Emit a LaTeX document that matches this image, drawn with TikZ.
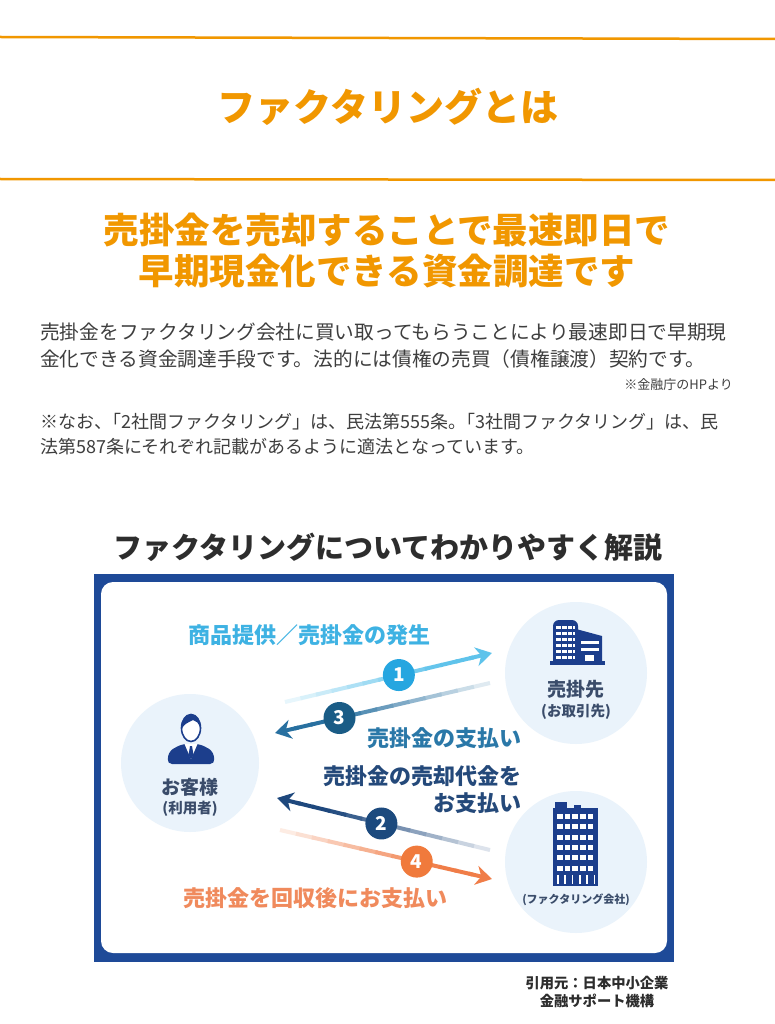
\documentclass[tikz,border=0pt]{standalone}
\usepackage{fontspec}
\setmainfont{Noto Sans CJK JP}
\usepackage{xcolor}
\usepackage{tikz}
\usetikzlibrary{arrows.meta, calc}

\definecolor{orng}{RGB}{241,151,0}
\definecolor{txtgray}{RGB}{62,62,62}
\definecolor{darkhd}{RGB}{45,45,45}
\definecolor{framebl}{RGB}{30,74,152}
\definecolor{circbg}{RGB}{234,243,251}
\definecolor{icon}{RGB}{28,62,140}
\definecolor{lblgray}{RGB}{58,76,106}
\definecolor{cyanl}{RGB}{62,178,227}
\definecolor{steel}{RGB}{42,120,168}
\definecolor{navyt}{RGB}{36,73,122}
\definecolor{orngl}{RGB}{240,138,92}
\definecolor{aone}{RGB}{95,195,235}
\definecolor{athree}{RGB}{40,112,160}
\definecolor{atwo}{RGB}{30,72,125}
\definecolor{afour}{RGB}{240,125,72}
\definecolor{bone}{RGB}{38,166,224}
\definecolor{bthree}{RGB}{26,92,134}
\definecolor{btwo}{RGB}{28,74,126}
\definecolor{bfour}{RGB}{240,122,60}

\tikzset{
  bigtitle/.style={text=orng, inner sep=0pt, font=\bfseries\fontsize{38}{40}\selectfont},
  headline/.style={text=orng, inner sep=0pt, font=\bfseries\fontsize{35.5}{38}\selectfont},
  bodytext/.style={text=txtgray, anchor=west, inner sep=0pt, font=\fontsize{19.7}{22}\selectfont},
  notetext/.style={text=txtgray, anchor=west, inner sep=0pt, font=\fontsize{18}{20}\selectfont},
  difftitle/.style={text=darkhd, inner sep=0pt, font=\bfseries\fontsize{29}{31}\selectfont},
  circbox/.style={circle, fill=circbg, inner sep=0pt},
  who/.style={text=lblgray, inner sep=0pt, font=\bfseries\fontsize{19}{21}\selectfont},
  whosub/.style={text=lblgray, inner sep=0pt, font=\bfseries\fontsize{14.5}{16}\selectfont},
  flowlbl/.style={inner sep=0pt, font=\bfseries\fontsize{22}{24}\selectfont},
  badge/.style={circle, minimum size=32pt, inner sep=0pt, text=white, font=\bfseries\fontsize{19}{20}\selectfont},
  headtip/.style={line width=4pt, -{Stealth[length=16pt, width=19pt, inset=5pt]}},
  credit/.style={text=darkhd, inner sep=0pt, font=\bfseries\fontsize{14.3}{16}\selectfont}
}

\newcommand\fadearrow[3]{%
  \foreach \i in {1,...,12}{%
    \pgfmathsetmacro\ta{(\i-1)/12*0.9}%
    \pgfmathsetmacro\tb{\i/12*0.9+0.01}%
    \pgfmathtruncatemacro\pc{min(100,6+\i*9)}%
    \draw[line width=4pt, #1!\pc!white] ($(#2)!\ta!(#3)$) -- ($(#2)!\tb!(#3)$);
  }
  \draw[headtip, #1] ($(#2)!0.89!(#3)$) -- (#3);
}

\begin{document}
\begin{tikzpicture}[x=1pt, y=-1pt]
\fill[white] (0,0) rectangle (775,1024);
\useasboundingbox (0,0) rectangle (775,1024);

\draw[orng, line width=2.5pt] (0,37) -- (775,39);
\draw[orng, line width=2.5pt] (0,179) -- (775,180);
\node[bigtitle] (title) at (388,107) {ファクタリングとは};
\node[headline] (headA) at (387,230) {売掛金を売却することで最速即日で};
\node[headline] (headB) at (387,271) {早期現金化できる資金調達です};

\node[bodytext] (bodyA) at (40,332) {売掛金をファクタリング会社に買い取ってもらうことにより最速即日で早期現};
\node[bodytext] (bodyB) at (40,359) {金化できる資金調達手段です。法的には債権の売買（債権譲渡）契約です。};
\node[text=txtgray, anchor=east, inner sep=0pt, font=\fontsize{13}{15}\selectfont] (src) at (733,385) {※金融庁のHPより};
\node[notetext] (noteA) at (40,422) {※なお、\kern-0.5em「2社間ファクタリング」は、民法第555条。\kern-0.5em「3社間ファクタリング」は、民};
\node[notetext] (noteB) at (40,447) {法第587条にそれぞれ記載があるように適法となっています。};

\node[difftitle] (diagtitle) at (388,547) {ファクタリングについてわかりやすく解説};

\fill[framebl] (94,574) rectangle (674,962);
\fill[white, rounded corners=12pt] (101,582) rectangle (667,953);

\node[circbox, minimum size=138pt] (cust) at (190,763) {};
\node[circbox, minimum size=142pt] (buyer) at (576,673) {};
\node[circbox, minimum size=142pt] (fact) at (576,862) {};

% person
\fill[icon, rounded corners=5pt] (167,764) -- (169,751) -- (182,744) -- (200,744) -- (213,751) -- (215,764) -- cycle;
\fill[white] (184.5,744) -- (191,759) -- (197.5,744) -- cycle;
\fill[icon] (190,746) -- (192,746) -- (193.5,755) -- (191,759) -- (188.5,755) -- cycle;
\filldraw[fill=white, draw=icon, line width=1.6pt] (191,728) ellipse [x radius=9.5, y radius=13.5];
\fill[icon] (181.5,730) .. controls (180,709) and (202,709) .. (200.5,730) .. controls (199,722) and (196,721) .. (193,720) .. controls (188,723) and (184,723) .. (181.5,730) -- cycle;

% buyer building
\fill[icon, rounded corners=6pt] (553,664) -- (553,620) -- (578,620) -- (578,664);
\foreach \y in {626,632,...,656} \fill[white] (556,\y) rectangle (575,\y+3);
\foreach \x in {561.5,567,572.5} \draw[icon, line width=0.8pt] (\x,625) -- (\x,660);
\fill[icon] (576,664) -- (576,629) -- (602,636) -- (602,664) -- cycle;
\fill[white] (581,641) rectangle (599,644);
\fill[white] (581,648) rectangle (599,651);
\fill[white] (585,655) rectangle (594,661);
\fill[icon] (550,661) rectangle (605,665);

% factoring building
\fill[icon] (555,802) rectangle (567,809);
\fill[icon] (574,805) rectangle (581,809);
\fill[icon] (553,808) rectangle (598,886);
\foreach \r in {0,...,5}
  \foreach \c in {0,...,4}
    \fill[white] ({557+\c*7.7},{814+\r*10.3}) rectangle +(5.5,5);
\foreach \c in {0,...,5} \fill[white] ({557+\c*7.3},875) rectangle +(1.6,9);

\node[who] (custname) at (190,787) {お客様};
\node[whosub] (custsub) at (190,809) {(利用者)};
\node[who] (buyername) at (576,689) {売掛先};
\node[whosub] (buyersub) at (576,712) {(お取引先)};
\node[text=lblgray, inner sep=0pt, font=\bfseries\fontsize{11}{13}\selectfont] (factsub) at (576,900) {(ファクタリング会社)};

\coordinate (aAs) at (285,702);
\coordinate (aAe) at (492,653);
\coordinate (aCs) at (490,683);
\coordinate (aCe) at (275,733);
\coordinate (aBs) at (490,850);
\coordinate (aBe) at (277,798);
\coordinate (aDs) at (280,830);
\coordinate (aDe) at (492,879);

\fadearrow{aone}{aAs}{aAe}
\fadearrow{athree}{aCs}{aCe}
\fadearrow{atwo}{aBs}{aBe}
\fadearrow{afour}{aDs}{aDe}

\node[badge, fill=bone] (nA) at ($(aAs)!0.55!(aAe)$) {1};
\node[badge, fill=bthree] (nC) at ($(aCs)!0.70!(aCe)$) {3};
\node[badge, fill=btwo] (nB) at ($(aBs)!0.51!(aBe)$) {2};
\node[badge, fill=bfour] (nD) at ($(aDs)!0.645!(aDe)$) {4};

\node[flowlbl, text=cyanl, anchor=west] (lblA) at (188,635) {商品提供／売掛金の発生};
\node[flowlbl, text=steel, anchor=east] (lblC) at (522,738) {売掛金の支払い};
\node[flowlbl, text=navyt, anchor=east] (lblBa) at (522,776) {売掛金の売却代金を};
\node[flowlbl, text=navyt, anchor=east] (lblBb) at (522,803) {お支払い};
\node[flowlbl, text=orngl, anchor=west] (lblD) at (183,898) {売掛金を回収後にお支払い};

\node[credit] (creditA) at (597,983) {引用元：日本中小企業};
\node[credit] (creditB) at (597,1001) {金融サポート機構};
\end{tikzpicture}
\end{document}
